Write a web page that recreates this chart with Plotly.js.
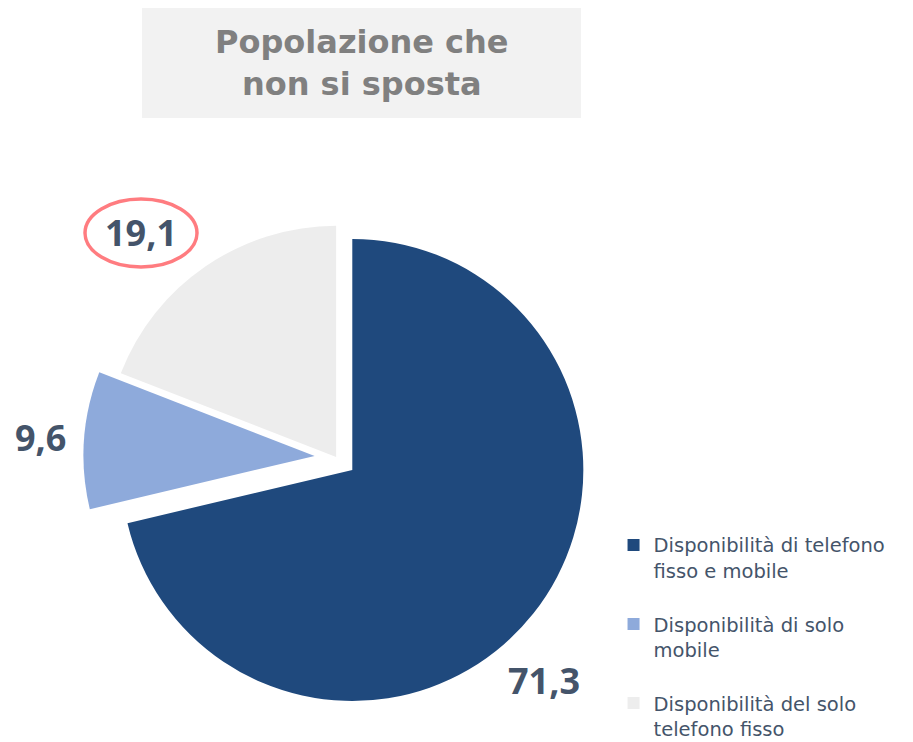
<!DOCTYPE html>
<html>
<head>
<meta charset="utf-8">
<script src="https://cdn.plot.ly/plotly-3.0.1.min.js"></script>
<style>html,body{margin:0;padding:0;background:#fff;}#chart{width:913px;height:742px;}</style>
</head>
<body>
<div id="chart"></div>
<script>
// ---- data ----
const categories = [
  "Disponibilità di telefono<br>fisso e mobile",
  "Disponibilità di solo<br>mobile",
  "Disponibilità del solo<br>telefono fisso"
];
const values = [71.3, 9.6, 19.1];
const sliceColors = ["#1f497d", "#8eaadb", "#ededed"];
const pulls = [0.087, 0.095, 0.003];
const chartTitle = "Popolazione che<br>non si sposta";

const fmt = v => v.toFixed(1).replace(".", ",");

const trace = {
  type: "pie",
  values: values,
  labels: categories.map((c, i) => i < categories.length - 1 ? c + "<br> " : c),
  sort: false,
  direction: "clockwise",
  rotation: 0,
  pull: pulls,
  marker: {colors: sliceColors, line: {width: 0}},
  textinfo: "none",
  hoverinfo: "label+value",
  domain: {x: [0.0915, 0.6457], y: [0.0425, 0.7244]}
};

const labelPos = [[544, 680], [40, 437], [141, 232]];
const annotations = values.map((v, i) => ({
  xref: "paper", yref: "paper",
  x: labelPos[i][0] / 913, y: 1 - labelPos[i][1] / 742,
  xanchor: "center", yanchor: "middle",
  text: "<b>" + fmt(v) + "</b>",
  showarrow: false,
  font: {family: "Open Sans", size: 36, color: "#44546a"}
}));
annotations.push({
  xref: "paper", yref: "paper",
  x: 361.5 / 913, y: 1 - 63 / 742,
  xanchor: "center", yanchor: "middle",
  text: "<b>" + chartTitle + "</b>",
  showarrow: false,
  font: {family: "DejaVu Sans", size: 32, color: "#808080"}
});

const layout = {
  width: 913, height: 742,
  margin: {l: 0, r: 0, t: 0, b: 0, autoexpand: false},
  paper_bgcolor: "#ffffff",
  showlegend: true,
  legend: {
    x: 0.672, y: 0.2915, xanchor: "left", yanchor: "top",
    valign: "top",
    bgcolor: "rgba(0,0,0,0)",
    font: {family: "DejaVu Sans", size: 19.5, color: "#44546a"}
  },
  shapes: [
    {type: "rect", xref: "paper", yref: "paper",
     x0: 142 / 913, x1: 581 / 913, y0: 1 - 118 / 742, y1: 1 - 8 / 742,
     fillcolor: "#f2f2f2", line: {width: 0}, layer: "below"},
    {type: "circle", xref: "paper", yref: "paper",
     x0: 85 / 913, x1: 197 / 913, y0: 1 - 267 / 742, y1: 1 - 199 / 742,
     line: {color: "#ff7c80", width: 3.5}}
  ],
  annotations: annotations
};

Plotly.newPlot("chart", [trace], layout, {displayModeBar: false});
</script>
</body>
</html>
